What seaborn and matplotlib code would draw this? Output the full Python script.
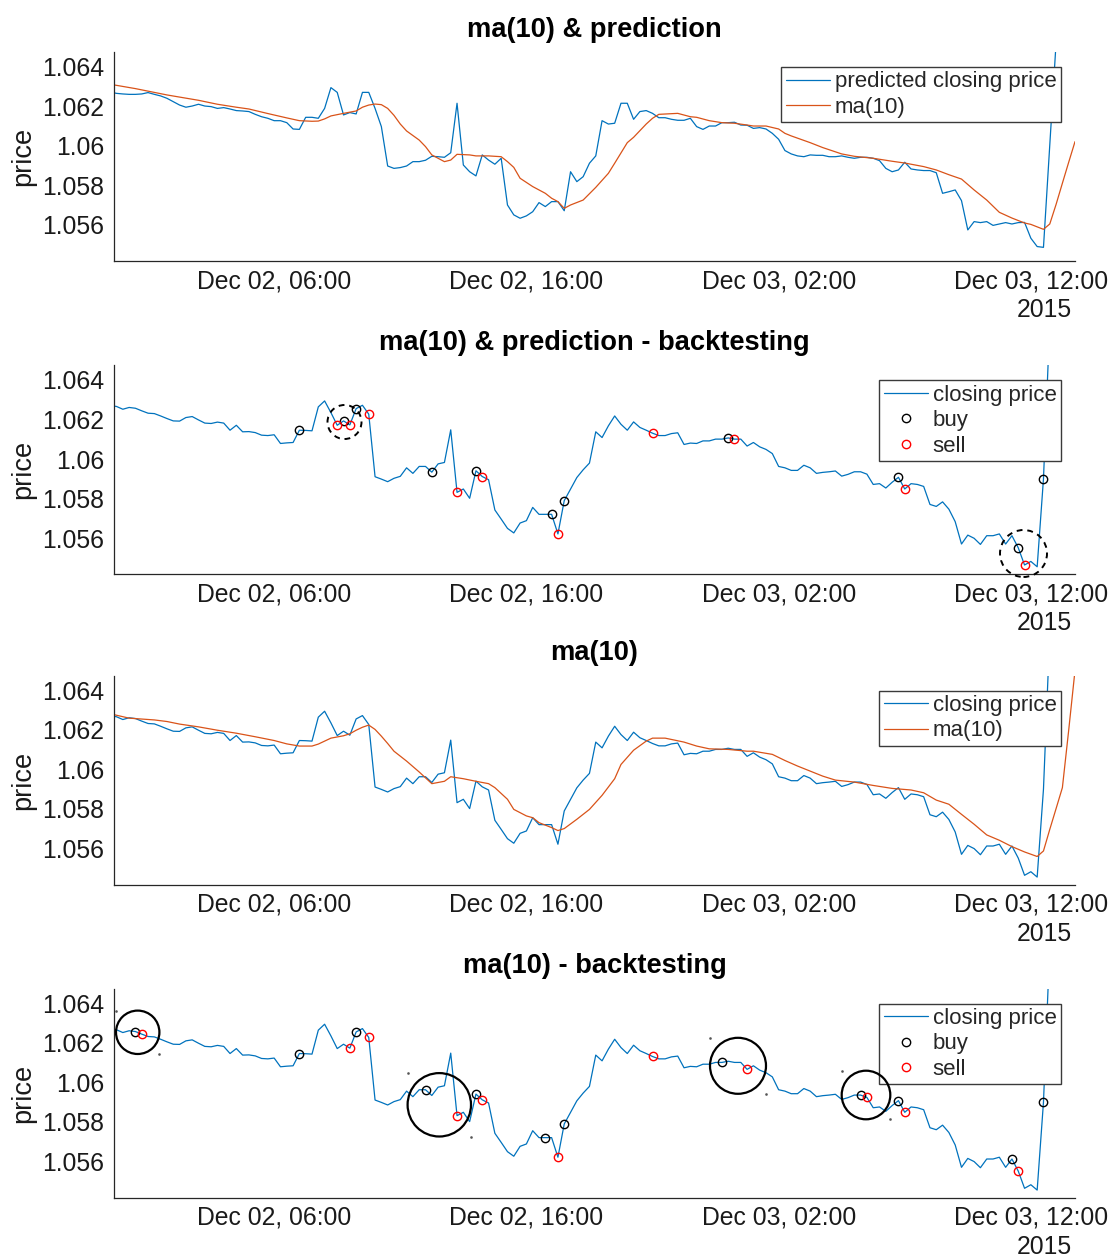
import numpy as np
import pandas as pd
import matplotlib
matplotlib.use("Agg")
import matplotlib.pyplot as plt
import matplotlib.dates as mdates
import seaborn as sns
from matplotlib.patches import Ellipse
from matplotlib.lines import Line2D
from matplotlib.ticker import FuncFormatter

# ---------------- data (15-minute bars, first bar 2015-12-01 23:30) ----------------
start_time = "2015-12-01 23:30"

closing_price = [
    1.06271, 1.06266, 1.06252, 1.06261, 1.06257, 1.06244, 1.06232, 1.06230, 1.06218, 1.06205,
    1.06193, 1.06192, 1.06210, 1.06215, 1.06198, 1.06182, 1.06180, 1.06187, 1.06182, 1.06146,
    1.06171, 1.06138, 1.06139, 1.06134, 1.06121, 1.06119, 1.06123, 1.06079, 1.06082, 1.06084,
    1.06146, 1.06145, 1.06143, 1.06264, 1.06294, 1.06235, 1.06171, 1.06193, 1.06173, 1.06255,
    1.06272, 1.06227, 1.05911, 1.05899, 1.05886, 1.05903, 1.05913, 1.05956, 1.05928, 1.05963,
    1.05963, 1.05934, 1.05976, 1.05983, 1.06148, 1.05832, 1.05849, 1.05802, 1.05941, 1.05912,
    1.05896, 1.05743, 1.05697, 1.05650, 1.05627, 1.05677, 1.05689, 1.05756, 1.05721, 1.05721,
    1.05721, 1.05622, 1.05790, 1.05849, 1.05907, 1.05946, 1.05980, 1.06138, 1.06109, 1.06168,
    1.06218, 1.06176, 1.06146, 1.06188, 1.06160, 1.06146, 1.06131, 1.06119, 1.06119, 1.06129,
    1.06133, 1.06074, 1.06081, 1.06079, 1.06092, 1.06092, 1.06101, 1.06101, 1.06107, 1.06101,
    1.06101, 1.06066, 1.06084, 1.06062, 1.06049, 1.06028, 1.05963, 1.05956, 1.05943, 1.05943,
    1.05969, 1.05956, 1.05928, 1.05933, 1.05936, 1.05940, 1.05914, 1.05923, 1.05936, 1.05936,
    1.05924, 1.05872, 1.05876, 1.05854, 1.05883, 1.05908, 1.05849, 1.05876, 1.05872, 1.05862,
    1.05771, 1.05761, 1.05784, 1.05747, 1.05684, 1.05571, 1.05616, 1.05600, 1.05569, 1.05613,
    1.05613, 1.05622, 1.05571, 1.05613, 1.05552, 1.05465, 1.05483, 1.05456, 1.05900, 1.06690,
    1.06800, 1.07000, 1.09000, 1.09000,
]

predicted_price = [
    1.06272, 1.06265, 1.06262, 1.06260, 1.06260, 1.06262, 1.06269, 1.06260, 1.06252, 1.06240,
    1.06223, 1.06206, 1.06195, 1.06201, 1.06210, 1.06201, 1.06198, 1.06189, 1.06193, 1.06186,
    1.06178, 1.06176, 1.06173, 1.06159, 1.06147, 1.06139, 1.06127, 1.06127, 1.06117, 1.06085,
    1.06083, 1.06144, 1.06144, 1.06139, 1.06189, 1.06294, 1.06270, 1.06156, 1.06168, 1.06161,
    1.06270, 1.06270, 1.06189, 1.06097, 1.05898, 1.05886, 1.05890, 1.05898, 1.05920, 1.05920,
    1.05927, 1.05947, 1.05945, 1.05942, 1.05965, 1.06215, 1.05903, 1.05869, 1.05848, 1.05954,
    1.05928, 1.05907, 1.05937, 1.05701, 1.05651, 1.05634, 1.05646, 1.05667, 1.05713, 1.05693,
    1.05718, 1.05718, 1.05672, 1.05869, 1.05819, 1.05844, 1.05912, 1.05949, 1.06127, 1.06110,
    1.06114, 1.06215, 1.06215, 1.06134, 1.06173, 1.06178, 1.06164, 1.06142, 1.06142, 1.06134,
    1.06129, 1.06129, 1.06139, 1.06097, 1.06083, 1.06100, 1.06100, 1.06117, 1.06117, 1.06119,
    1.06105, 1.06104, 1.06088, 1.06092, 1.06085, 1.06063, 1.06033, 1.05976, 1.05959, 1.05949,
    1.05945, 1.05954, 1.05952, 1.05952, 1.05945, 1.05945, 1.05949, 1.05942, 1.05937, 1.05942,
    1.05942, 1.05937, 1.05925, 1.05886, 1.05869, 1.05878, 1.05917, 1.05883, 1.05878, 1.05875,
    1.05875, 1.05864, 1.05760, 1.05768, 1.05777, 1.05723, 1.05575, 1.05617, 1.05612, 1.05617,
    1.05598, 1.05605, 1.05612, 1.05605, 1.05612, 1.05613, 1.05533, 1.05491, 1.05487, 1.06004,
    1.06521, 1.06700, 1.06900, 1.07000,
]

# ma(10) of the prediction (panel 1): bar index (0 = Dec 01 23:45) and value
ma_pred_idx = [-1, 3, 8, 13, 16, 19, 21, 24, 27, 29, 31, 32, 33, 34, 36, 38, 39, 40, 41, 42,
               43, 44, 45, 46, 48, 49, 50, 52, 53, 54, 56, 57, 59, 61, 62, 63, 64, 66, 67, 68,
               69, 70, 71, 72, 74, 76, 78, 79, 81, 82, 84, 85, 86, 89, 91, 92, 94, 96, 98, 100,
               101, 103, 105, 106, 107, 110, 112, 115, 117, 120, 123, 125, 128, 130, 132, 134, 136, 138, 140, 142,
               144, 145, 147, 148, 149, 150, 151, 152]
ma_pred_val = [1.06311, 1.06289, 1.06257, 1.06230, 1.06210, 1.06195, 1.06186, 1.06163, 1.06141, 1.06127,
               1.06124, 1.06125, 1.06136, 1.06151, 1.06164, 1.06176, 1.06195, 1.06206, 1.06211, 1.06208,
               1.06189, 1.06154, 1.06110, 1.06075, 1.06029, 1.05996, 1.05954, 1.05920, 1.05928, 1.05957,
               1.05954, 1.05949, 1.05949, 1.05945, 1.05920, 1.05891, 1.05836, 1.05794, 1.05777, 1.05760,
               1.05735, 1.05718, 1.05684, 1.05701, 1.05726, 1.05790, 1.05861, 1.05912, 1.06016, 1.06043,
               1.06110, 1.06139, 1.06159, 1.06164, 1.06147, 1.06144, 1.06127, 1.06117, 1.06114, 1.06105,
               1.06100, 1.06100, 1.06085, 1.06063, 1.06050, 1.06016, 1.05991, 1.05959, 1.05947, 1.05937,
               1.05922, 1.05913, 1.05895, 1.05878, 1.05854, 1.05832, 1.05777, 1.05726, 1.05664, 1.05635,
               1.05610, 1.05603, 1.05578, 1.05605, 1.05704, 1.05811, 1.05917, 1.06021]

# ma(10) of the closing price (panel 3)
ma_close_idx = [-1, 2, 6, 8, 10, 13, 16, 19, 22, 25, 27, 29, 31, 32, 34, 36, 37, 38, 39, 40,
                41, 42, 43, 44, 46, 48, 50, 52, 53, 55, 57, 59, 60, 62, 63, 65, 66, 67, 69, 70,
                71, 73, 75, 77, 79, 80, 82, 84, 85, 87, 90, 92, 94, 97, 100, 101, 104, 106, 108, 112,
                114, 117, 120, 123, 126, 128, 130, 132, 134, 136, 138, 140, 142, 144, 146, 147, 148, 149, 150, 151,
                152]
ma_close_val = [1.06281, 1.06259, 1.06250, 1.06242, 1.06229, 1.06215, 1.06198, 1.06183, 1.06165, 1.06146,
                1.06129, 1.06118, 1.06118, 1.06128, 1.06158, 1.06170, 1.06180, 1.06198, 1.06213, 1.06224,
                1.06202, 1.06168, 1.06131, 1.06092, 1.06042, 1.05987, 1.05928, 1.05940, 1.05963, 1.05953,
                1.05940, 1.05928, 1.05908, 1.05849, 1.05798, 1.05765, 1.05756, 1.05731, 1.05706, 1.05691,
                1.05701, 1.05748, 1.05798, 1.05869, 1.05953, 1.06025, 1.06097, 1.06143, 1.06158, 1.06158,
                1.06138, 1.06118, 1.06104, 1.06101, 1.06092, 1.06092, 1.06076, 1.06045, 1.06017, 1.05966,
                1.05946, 1.05936, 1.05919, 1.05904, 1.05896, 1.05882, 1.05845, 1.05824, 1.05773, 1.05723,
                1.05669, 1.05642, 1.05610, 1.05583, 1.05560, 1.05588, 1.05697, 1.05802, 1.05908, 1.06198,
                1.06500]

# backtesting signals (bar indices)
buy_pred_idx = [29, 36, 38, 50, 57, 69, 71, 97, 124, 143, 147]
sell_pred_idx = [35, 37, 40, 54, 58, 70, 85, 98, 125, 144]
buy_ma_idx = [3, 29, 38, 49, 57, 68, 71, 96, 118, 124, 142, 147]
sell_ma_idx = [4, 37, 40, 54, 58, 70, 85, 100, 119, 125, 143]

titles = ["ma(10) & prediction", "ma(10) & prediction - backtesting",
          "ma(10)", "ma(10) - backtesting"]
tick_times = ["2015-12-02 06:00", "2015-12-02 16:00", "2015-12-03 02:00", "2015-12-03 12:00"]
y_ticks = [1.056, 1.058, 1.060, 1.062, 1.064]
year_label = "2015"

# ---------------- styling ----------------
sns.set_theme(style="white")
plt.rcParams["font.family"] = ["Liberation Sans", "DejaVu Sans"]

BLUE = "#0072BD"
ORANGE = "#D95319"
AX_COL = "#262626"
W, H = 1111, 1256
TICK_FS, LABEL_FS, LEG_FS = 17.8, 19.6, 16

times = pd.date_range(start_time, periods=len(closing_price), freq="15min")
close_s = pd.Series(closing_price, index=times)


def at(idx_list):
    return times[np.asarray(idx_list) + 1]


fig = plt.figure(figsize=(W / 100, H / 100), dpi=100)
ax_left, ax_w, ax_h = 114 / W, 961 / W, 209 / H
tops = [52, 365.3, 675.6, 988.6]
axes = [fig.add_axes([ax_left, 1 - (t + 209) / H, ax_w, ax_h]) for t in tops]


def style_axis(ax, title):
    ax.set_xlim(pd.Timestamp("2015-12-01 23:39"), pd.Timestamp("2015-12-03 13:45"))
    ax.set_ylim(1.05418, 1.06474)
    ax.set_xticks([pd.Timestamp(t) for t in tick_times])
    ax.xaxis.set_major_formatter(mdates.DateFormatter("%b %d, %H:%M"))
    ax.set_yticks(y_ticks)
    ax.yaxis.set_major_formatter(FuncFormatter(lambda v, p: f"{v:g}"))
    ax.tick_params(axis="both", direction="in", length=7, width=0.8, color=AX_COL,
                   labelsize=TICK_FS, labelcolor="#1a1a1a")
    ax.tick_params(axis="y", pad=7)
    ax.tick_params(axis="x", pad=6)
    for s in ["top", "right"]:
        ax.spines[s].set_visible(False)
    for s in ["left", "bottom"]:
        ax.spines[s].set_color(AX_COL)
        ax.spines[s].set_linewidth(0.9)
    ax.set_xlabel("")
    ax.set_ylabel("price", fontsize=LABEL_FS, color="#1a1a1a")
    ax.yaxis.set_label_coords(-0.081, 0.5)
    ax.set_title(title, fontsize=LABEL_FS, fontweight="bold", pad=11, color="black")
    ax.annotate(year_label, xy=(1, 0), xycoords="axes fraction", xytext=(-3, -49),
                textcoords="offset pixels", ha="right", va="center", fontsize=TICK_FS,
                color="#1a1a1a", annotation_clip=False)


def add_legend(ax):
    leg = ax.legend(loc="upper right", bbox_to_anchor=((1061 - 114) / 961, 1 - 15 / 209),
                    borderaxespad=0, fontsize=LEG_FS, frameon=True, fancybox=False,
                    framealpha=1, edgecolor="#3a3a3a", handlelength=2.0, handletextpad=0.2,
                    borderpad=0.2, labelspacing=0.2, numpoints=1)
    leg.get_frame().set_linewidth(1.0)


def plot_signals(ax, buy_idx, sell_idx):
    sns.lineplot(x=at(buy_idx), y=close_s.iloc[np.asarray(buy_idx) + 1].values, ax=ax,
                 linestyle="", marker="o", markersize=6, markerfacecolor="none",
                 markeredgecolor="black", mew=1.0, color="black", label="buy")
    sns.lineplot(x=at(sell_idx), y=close_s.iloc[np.asarray(sell_idx) + 1].values, ax=ax,
                 linestyle="", marker="o", markersize=6, markerfacecolor="none",
                 markeredgecolor="red", mew=1.0, color="red", label="sell")


# Panel 1
ax = axes[0]
sns.lineplot(x=times, y=predicted_price, ax=ax, color=BLUE, linewidth=0.9,
             label="predicted closing price")
sns.lineplot(x=at(ma_pred_idx), y=ma_pred_val, ax=ax, color=ORANGE, linewidth=0.9,
             label="ma(10)")
style_axis(ax, titles[0])
add_legend(ax)

# Panel 2
ax = axes[1]
sns.lineplot(x=times, y=closing_price, ax=ax, color=BLUE, linewidth=0.9, label="closing price")
plot_signals(ax, buy_pred_idx, sell_pred_idx)
style_axis(ax, titles[1])
add_legend(ax)

# Panel 3
ax = axes[2]
sns.lineplot(x=times, y=closing_price, ax=ax, color=BLUE, linewidth=0.9, label="closing price")
sns.lineplot(x=at(ma_close_idx), y=ma_close_val, ax=ax, color=ORANGE, linewidth=0.9,
             label="ma(10)")
style_axis(ax, titles[2])
add_legend(ax)

# Panel 4
ax = axes[3]
sns.lineplot(x=times, y=closing_price, ax=ax, color=BLUE, linewidth=0.9, label="closing price")
plot_signals(ax, buy_ma_idx, sell_ma_idx)
style_axis(ax, titles[3])
add_legend(ax)

# ---------------- annotation circles (figure pixel positions) ----------------
dashed_circles = [(344.5, 422, 17), (1023.5, 553.5, 23.5)]
solid_circles = [(137.7, 1032.3, 21.7), (439.3, 1104.8, 31.7), (738, 1065.8, 28), (866, 1095, 24.3)]

for cx, cy, r in dashed_circles:
    fig.add_artist(Ellipse((cx / W, 1 - cy / H), 2 * r / W, 2 * r / H, transform=fig.transFigure,
                           fill=False, edgecolor="black", linewidth=1.4, linestyle=(0, (3, 2.5))))
for cx, cy, r in solid_circles:
    fig.add_artist(Ellipse((cx / W, 1 - cy / H), 2 * r / W, 2 * r / H, transform=fig.transFigure,
                           fill=False, edgecolor="black", linewidth=1.6))
    for dx, dy in [(-r, -r), (r, r)]:
        fig.add_artist(Line2D([(cx + dx) / W], [1 - (cy + dy) / H], transform=fig.transFigure,
                              marker="s", markersize=0.8, color="#555555", linestyle=""))

fig.savefig("out.png", dpi=100)
